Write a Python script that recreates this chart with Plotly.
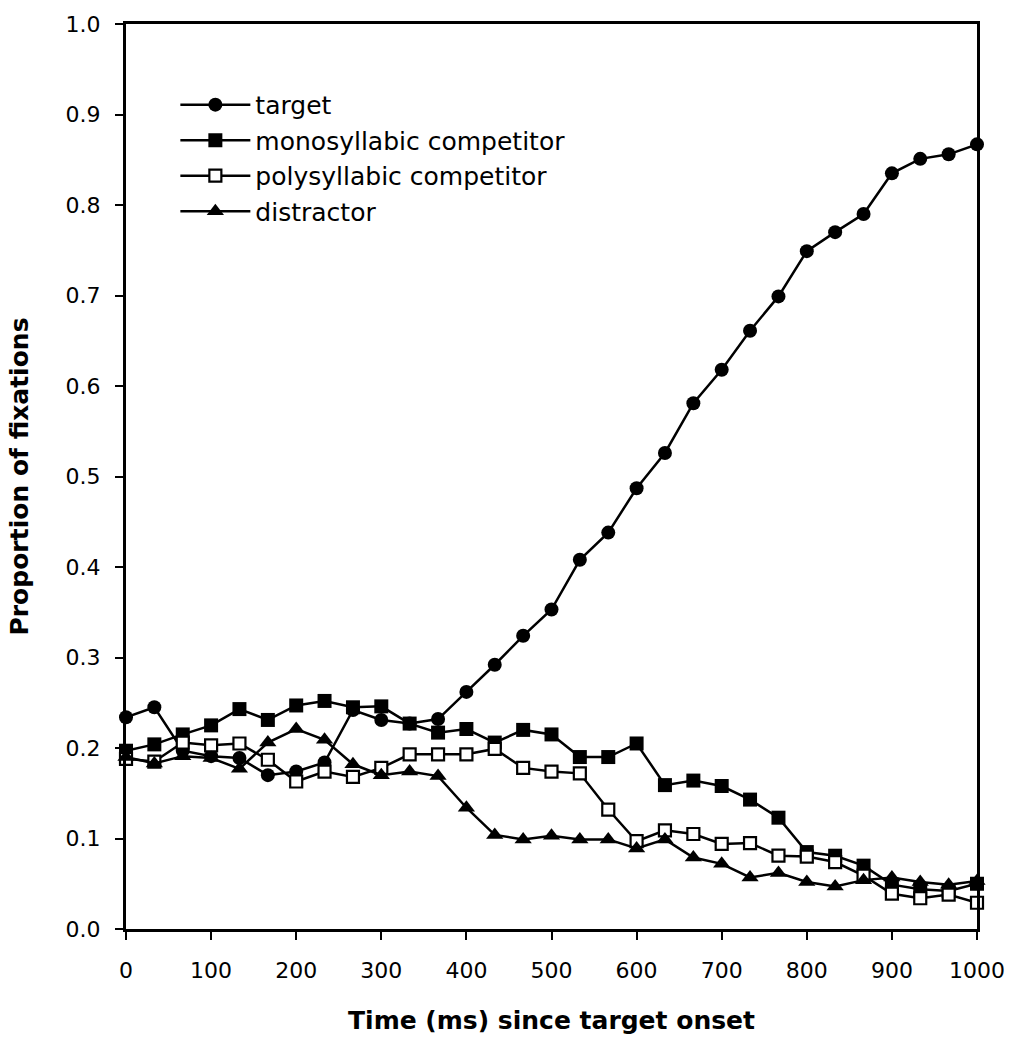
import plotly.graph_objects as go

time_ms = [0, 33.3, 66.7, 100, 133.3, 166.7, 200, 233.3, 266.7, 300, 333.3, 366.7, 400,
           433.3, 466.7, 500, 533.3, 566.7, 600, 633.3, 666.7, 700, 733.3, 766.7, 800,
           833.3, 866.7, 900, 933.3, 966.7, 1000]

target = [0.234, 0.245, 0.197, 0.191, 0.189, 0.170, 0.174, 0.184, 0.242, 0.231, 0.227,
          0.232, 0.262, 0.292, 0.324, 0.353, 0.408, 0.438, 0.487, 0.526, 0.581, 0.618,
          0.661, 0.699, 0.749, 0.770, 0.790, 0.835, 0.851, 0.856, 0.867]

mono = [0.197, 0.204, 0.215, 0.225, 0.243, 0.231, 0.247, 0.252, 0.245, 0.246, 0.227,
        0.217, 0.221, 0.206, 0.220, 0.215, 0.190, 0.190, 0.205, 0.159, 0.164, 0.158,
        0.143, 0.123, 0.085, 0.081, 0.070, 0.049, 0.044, 0.042, 0.050]

poly = [0.188, 0.185, 0.206, 0.203, 0.205, 0.187, 0.163, 0.174, 0.168, 0.178, 0.193,
        0.193, 0.193, 0.199, 0.178, 0.174, 0.172, 0.132, 0.097, 0.109, 0.105, 0.094,
        0.095, 0.081, 0.080, 0.074, 0.059, 0.039, 0.034, 0.038, 0.029]

distractor = [0.190, 0.183, 0.191, 0.189, 0.177, 0.206, 0.221, 0.209, 0.182, 0.170,
              0.174, 0.169, 0.134, 0.104, 0.099, 0.103, 0.099, 0.099, 0.089, 0.099,
              0.079, 0.072, 0.057, 0.062, 0.052, 0.047, 0.054, 0.057, 0.052, 0.049, 0.053]

series_names = ["target", "monosyllabic competitor", "polysyllabic competitor", "distractor"]

FONT = "DejaVu Sans"
fig = go.Figure()

styles = [
    dict(symbol="circle", size=14, color="black", line=dict(color="black", width=0)),
    dict(symbol="square", size=14, color="black", line=dict(color="black", width=0)),
    dict(symbol="square", size=12, color="white", line=dict(color="black", width=2.2)),
    dict(symbol="triangle-up", size=15, color="black", line=dict(color="black", width=0)),
]

for i, (name, ys, mk) in enumerate(zip(series_names, [target, mono, poly, distractor], styles)):
    fig.add_trace(go.Scatter(
        x=time_ms, y=ys, name=name, mode="lines+markers",
        line=dict(color="black", width=2.5),
        marker=mk, cliponaxis=False, legendgroup=f"g{i}",
    ))

fig.update_layout(
    width=1017, height=1043,
    paper_bgcolor="white", plot_bgcolor="white",
    margin=dict(l=126, r=34, t=14, b=107),
    font=dict(family=FONT, size=22, color="black"),
    showlegend=True,
    legend=dict(
        x=0.058, y=0.936, xanchor="left", yanchor="top",
        bgcolor="rgba(0,0,0,0)", font=dict(family=FONT, size=25, color="black"),
        itemwidth=70, tracegroupgap=15, traceorder="normal",
    ),
    xaxis=dict(
        range=[0, 1000], tickmode="array",
        tickvals=[0, 100, 200, 300, 400, 500, 600, 700, 800, 900, 1000],
        ticks="outside", ticklen=8, tickwidth=2, tickcolor="black",
        showline=True, linecolor="black", linewidth=3, mirror=True,
        showgrid=False, zeroline=False, ticklabelstandoff=12,
        tickfont=dict(family=FONT, size=22),
        title=dict(text="<b>Time (ms) since target onset</b>", font=dict(family=FONT, size=25), standoff=30),
    ),
    yaxis=dict(
        range=[0, 1.0], tickmode="array",
        tickvals=[0, 0.1, 0.2, 0.3, 0.4, 0.5, 0.6, 0.7, 0.8, 0.9, 1.0],
        tickformat=".1f",
        ticks="outside", ticklen=8, tickwidth=2, tickcolor="black",
        showline=True, linecolor="black", linewidth=3, mirror=True,
        showgrid=False, zeroline=False, ticklabelstandoff=10,
        tickfont=dict(family=FONT, size=22),
        title=dict(text="<b>Proportion of fixations</b>", font=dict(family=FONT, size=25), standoff=30),
    ),
)

fig.write_html("out.html", config={"displayModeBar": False},
               post_script="document.body.style.margin='0px';")
